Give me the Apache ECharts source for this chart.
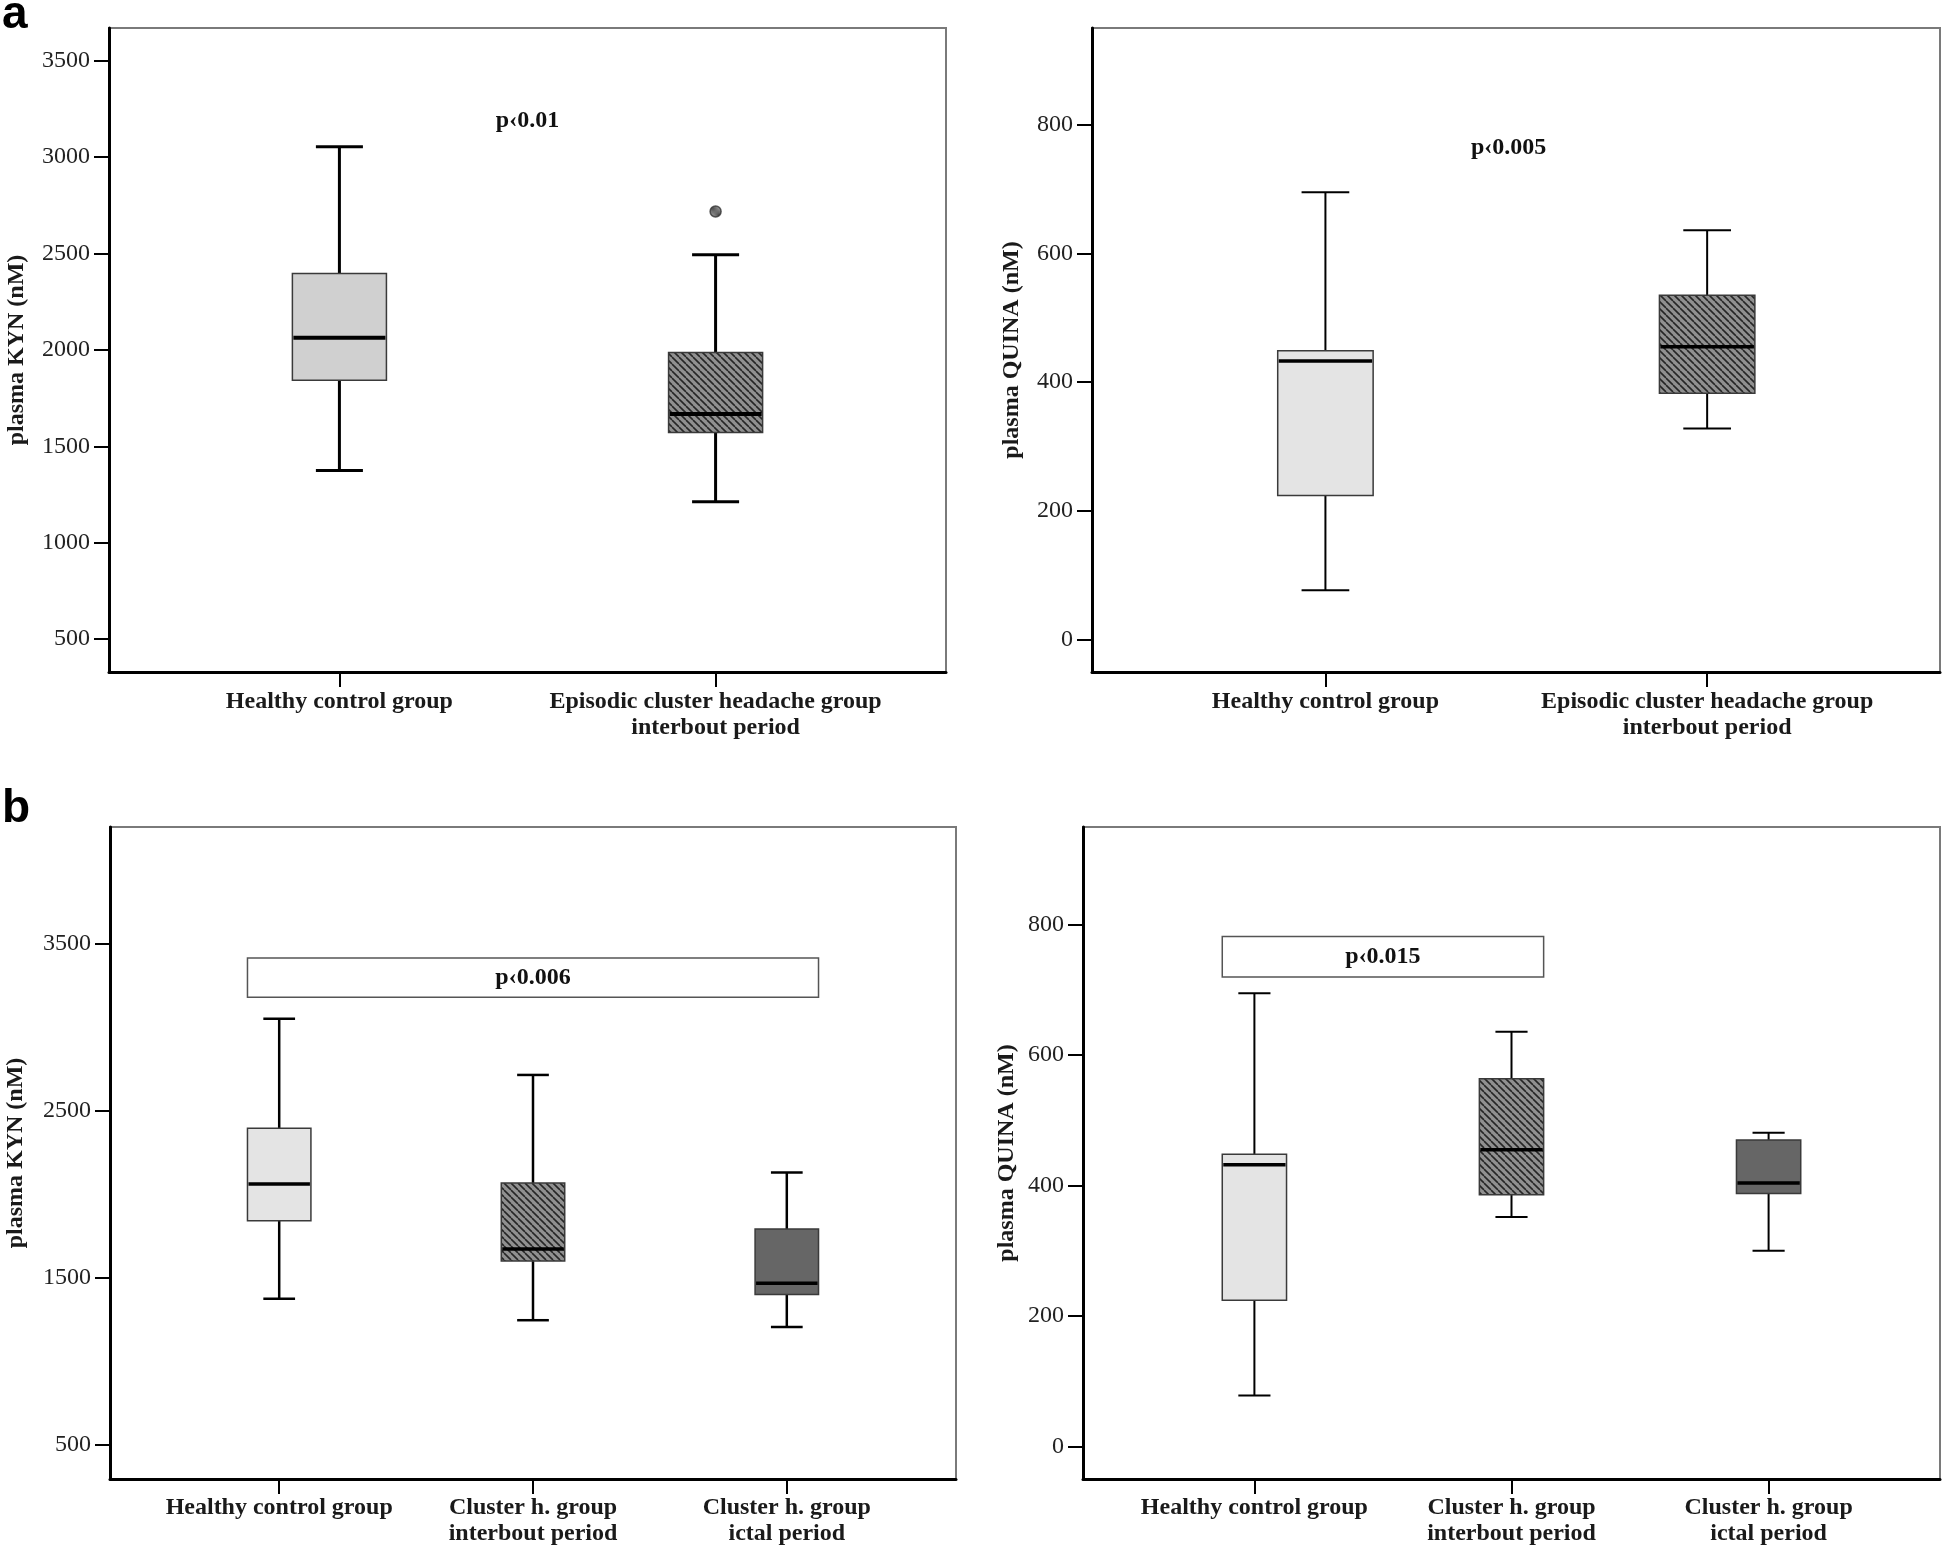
<!DOCTYPE html>
<html><head><meta charset="utf-8">
<script src="https://cdn.jsdelivr.net/npm/echarts@6/dist/echarts.min.js"></script>
<style>html,body{margin:0;padding:0;background:#fff}#c{width:1944px;height:1550px}</style>
</head><body><div id="c"></div>
<script>
// ---------- data ----------
const catsA = ['Healthy control group', 'Episodic cluster headache group\ninterbout period'];
const catsB = ['Healthy control group', 'Cluster h. group\ninterbout period', 'Cluster h. group\nictal period'];
// each box: [low whisker, Q1, median, Q3, high whisker]
const kynA = [[1375, 1842, 2062, 2396, 3052], [1212, 1572, 1667, 1986, 2493]];
const kynAOutliers = [[2, 2717]];
const quinaA = [[77, 224, 433, 449, 695], [328, 383, 455, 535, 636]];
const kynB = [[1375, 1842, 2062, 2396, 3052], [1246, 1600, 1672, 2068, 2715], [1205, 1400, 1467, 1792, 2130]];
const quinaB = [[78, 224, 432, 448, 695], [352, 386, 455, 564, 636], [300, 388, 404, 470, 481]];
const kynATicks = [500, 1000, 1500, 2000, 2500, 3000, 3500];
const quinaTicks = [0, 200, 400, 600, 800];
const kynBTicks = [500, 1500, 2500, 3500];
// p-value notes: [text, x position (category units), y value]
const noteKynA = [['p\u20390.01', 1.5, 3188]];
const noteQuinaA = [['p\u20390.005', 1.48, 764]];
// bracketed notes: [text, first category, last category, low value, high value]
const noteKynB = [['p\u20390.006', 1, 3, 3180, 3415]];
const noteQuinaB = [['p\u20390.015', 1, 2, 720, 782]];

// ---------- style ----------
const SERIF = '"Liberation Serif","Times New Roman",serif';
const BOX_W = 0.25;
function hatch() {
  const s = 7, c = document.createElement('canvas');
  c.width = s; c.height = s;
  const g = c.getContext('2d');
  g.fillStyle = '#909090'; g.fillRect(0, 0, s, s);
  g.strokeStyle = '#262626'; g.lineWidth = 1.6;
  for (let k = -1; k <= 1; k++) { g.beginPath(); g.moveTo(k * s, 0); g.lineTo(k * s + s, s); g.stroke(); }
  return { image: c, repeat: 'repeat' };
}
const HATCH = hatch();

function boxSeries(idx, data, fills, lw, medW) {
  return {
    type: 'custom', xAxisIndex: idx, yAxisIndex: idx, silent: true,
    data: data.map((d, i) => [i + 1].concat(d)),
    renderItem(params, api) {
      const x = api.value(0);
      const pL = api.coord([x, api.value(1)]), p1 = api.coord([x, api.value(2)]),
            pM = api.coord([x, api.value(3)]), p3 = api.coord([x, api.value(4)]),
            pH = api.coord([x, api.value(5)]);
      const half = api.size([BOX_W, 0])[0] / 2, cap = half / 2, cx = pL[0];
      const ls = { stroke: '#000', lineWidth: lw };
      return { type: 'group', children: [
        { type: 'line', shape: { x1: cx, y1: pL[1], x2: cx, y2: p1[1] }, style: ls },
        { type: 'line', shape: { x1: cx, y1: p3[1], x2: cx, y2: pH[1] }, style: ls },
        { type: 'line', shape: { x1: cx - cap, y1: pL[1], x2: cx + cap, y2: pL[1] }, style: ls },
        { type: 'line', shape: { x1: cx - cap, y1: pH[1], x2: cx + cap, y2: pH[1] }, style: ls },
        { type: 'rect', shape: { x: cx - half, y: p3[1], width: 2 * half, height: p1[1] - p3[1] },
          style: { fill: fills[params.dataIndex], stroke: '#3a3a3a', lineWidth: 1.5 } },
        { type: 'line', shape: { x1: cx - half + 1, y1: pM[1], x2: cx + half - 1, y2: pM[1] }, style: { stroke: '#000', lineWidth: medW } }
      ] };
    }
  };
}
function noteSeries(idx, notes) {
  return {
    type: 'custom', xAxisIndex: idx, yAxisIndex: idx, silent: true, data: notes,
    renderItem(params, api) {
      const p = api.coord([api.value(1), api.value(2)]);
      return { type: 'text', x: p[0], y: p[1], style: { text: notes[params.dataIndex][0], font: 'bold 24px ' + SERIF, fill: '#111', align: 'center', verticalAlign: 'middle' } };
    }
  };
}
function bracketSeries(idx, notes) {
  return {
    type: 'custom', xAxisIndex: idx, yAxisIndex: idx, silent: true, data: notes,
    renderItem(params, api) {
      const a = api.coord([api.value(1) - BOX_W / 2, api.value(4)]);
      const b = api.coord([api.value(2) + BOX_W / 2, api.value(3)]);
      return { type: 'group', children: [
        { type: 'rect', shape: { x: a[0], y: a[1], width: b[0] - a[0], height: b[1] - a[1] }, style: { fill: '#fff', stroke: '#555', lineWidth: 1.5 } },
        { type: 'text', x: (a[0] + b[0]) / 2, y: (a[1] + b[1]) / 2, style: { text: notes[params.dataIndex][0], font: 'bold 24px ' + SERIF, fill: '#111', align: 'center', verticalAlign: 'middle' } }
      ] };
    }
  };
}
function xAxis(gi, cats, min, max, margin) {
  const vals = cats.map((_, i) => i + 1);
  return {
    type: 'value', gridIndex: gi, min, max, splitLine: { show: false },
    axisLine: { show: true, onZero: false, lineStyle: { color: '#000', width: 3 } },
    axisTick: { show: true, customValues: vals, length: 15, lineStyle: { color: '#000', width: 2 } },
    axisLabel: { customValues: vals, formatter: v => cats[Math.round(v) - 1] || '', margin, fontFamily: SERIF, fontSize: 24, fontWeight: 'bold', color: '#1a1a1a', lineHeight: 26 }
  };
}
function yAxis(gi, name, min, max, ticks, nameGap) {
  return {
    type: 'value', gridIndex: gi, min, max, name, nameLocation: 'middle', nameGap,
    nameTextStyle: { fontFamily: SERIF, fontSize: 24, fontWeight: 'bold', color: '#1a1a1a' },
    splitLine: { show: false },
    axisLine: { show: true, onZero: false, lineStyle: { color: '#000', width: 3 } },
    axisTick: { show: true, customValues: ticks, length: 15, lineStyle: { color: '#000', width: 2 } },
    axisLabel: { customValues: ticks, formatter: v => String(v), margin: 19, fontFamily: SERIF, fontSize: 24, color: '#222' }
  };
}
const gridStyle = { show: true, borderColor: '#7a7a7a', borderWidth: 2, containLabel: false };

const chart = echarts.init(document.getElementById('c'), null, { renderer: 'canvas' });
chart.setOption({
  animation: false,
  backgroundColor: '#fff',
  grid: [
    Object.assign({ left: 109, top: 28, width: 837, height: 644 }, gridStyle),
    Object.assign({ left: 1092, top: 28, width: 848, height: 644 }, gridStyle),
    Object.assign({ left: 110, top: 827, width: 846, height: 652 }, gridStyle),
    Object.assign({ left: 1083, top: 827, width: 857, height: 652 }, gridStyle)
  ],
  xAxis: [
    xAxis(0, catsA, 0.3875, 2.6125, 17),
    xAxis(1, catsA, 0.3885, 2.61, 17),
    xAxis(2, catsB, 1 / 3, 11 / 3, 16),
    xAxis(3, catsB, 1 / 3, 11 / 3, 16)
  ],
  yAxis: [
    yAxis(0, 'plasma KYN (nM)', 330, 3668, kynATicks, 80),
    yAxis(1, 'plasma QUINA (nM)', -50, 950, quinaTicks, 68),
    yAxis(2, 'plasma KYN (nM)', 295, 4200, kynBTicks, 82),
    yAxis(3, 'plasma QUINA (nM)', -50, 950, quinaTicks, 64)
  ],
  graphic: [
    { type: 'text', left: 2, top: -8, style: { text: 'a', font: 'bold 46px "Liberation Sans",Arial,sans-serif', fill: '#000' } },
    { type: 'text', left: 2, top: 786, style: { text: 'b', font: 'bold 46px "Liberation Sans",Arial,sans-serif', fill: '#000' } }
  ],
  series: [
    boxSeries(0, kynA, ['#d0d0d0', HATCH], 3, 4),
    { type: 'scatter', xAxisIndex: 0, yAxisIndex: 0, data: kynAOutliers, symbol: 'circle', symbolSize: 11, silent: true,
      itemStyle: { color: HATCH, borderColor: '#333', borderWidth: 1.5 } },
    noteSeries(0, noteKynA),
    boxSeries(1, quinaA, ['#e4e4e4', HATCH], 2, 3.5),
    noteSeries(1, noteQuinaA),
    bracketSeries(2, noteKynB),
    boxSeries(2, kynB, ['#e4e4e4', HATCH, '#666666'], 2.5, 3.5),
    bracketSeries(3, noteQuinaB),
    boxSeries(3, quinaB, ['#e4e4e4', HATCH, '#666666'], 2, 3.5)
  ]
});
</script>
</body></html>
